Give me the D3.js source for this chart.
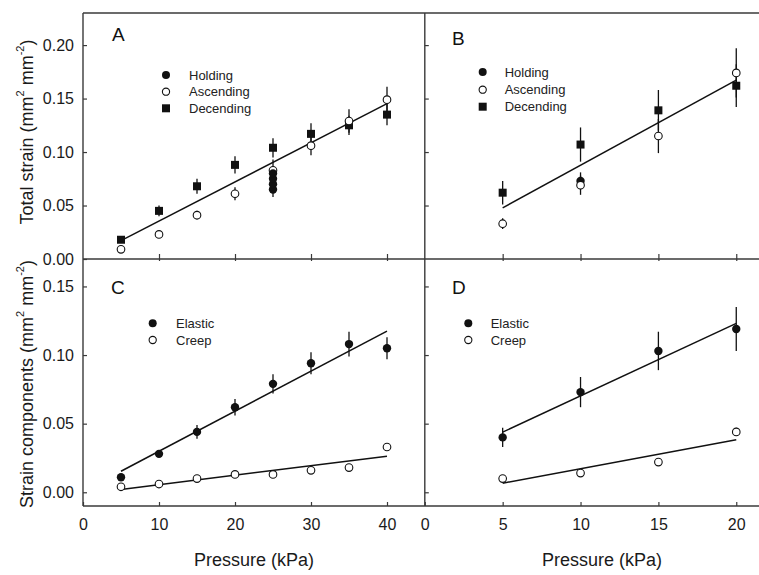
<!DOCTYPE html>
<html>
<head>
<meta charset="utf-8">
<script src="https://cdn.jsdelivr.net/npm/d3@7"></script>
<style>
  html, body { margin: 0; padding: 0; background: #fff; }
  svg { display: block; font-family: "Liberation Sans", Arial, sans-serif; }
</style>
</head>
<body>
<svg id="chart" width="759" height="575"></svg>
<script>
// ---------------- DATA ----------------
const pressureA = [5, 10, 15, 20, 25, 30, 35, 40];
const ascendingA = [0.009, 0.023, 0.041, 0.061, 0.083, 0.106, 0.129, 0.149];
const ascendingAErr = [0.002, 0.002, 0.004, 0.006, 0.010, 0.009, 0.011, 0.012];
const descendingA = [0.018, 0.045, 0.068, 0.088, 0.104, 0.117, 0.125, 0.135];
const descendingAErr = [0.003, 0.005, 0.007, 0.008, 0.009, 0.010, 0.009, 0.010];
const holdingAPressure = [25, 25, 25, 25];
const holdingA = [0.065, 0.070, 0.075, 0.080];
const holdingAErr = [0.007, 0.004, 0.004, 0.004];
const fitA = [[5, 0.0172], [40, 0.1453]];

const pressureB = [5, 10, 15, 20];
const ascendingB = [0.033, 0.069, 0.115, 0.174];
const ascendingBErr = [0.005, 0.009, 0.016, 0.023];
const descendingB = [0.062, 0.107, 0.139, 0.162];
const descendingBErr = [0.011, 0.016, 0.019, 0.020];
const holdingBPressure = [10];
const holdingB = [0.073];
const holdingBErr = [0.008];
const fitB = [[5, 0.0478], [20, 0.1672]];

const pressureC = [5, 10, 15, 20, 25, 30, 35, 40];
const elasticC = [0.011, 0.028, 0.044, 0.062, 0.079, 0.094, 0.108, 0.105];
const elasticCErr = [0.002, 0.002, 0.005, 0.006, 0.007, 0.008, 0.009, 0.008];
const creepC = [0.004, 0.006, 0.010, 0.013, 0.013, 0.016, 0.018, 0.033];
const creepCErr = [0.001, 0.001, 0.001, 0.001, 0.001, 0.001, 0.001, 0.002];
const fitElasticC = [[5, 0.0153], [40, 0.1175]];
const fitCreepC = [[5, 0.0020], [40, 0.0263]];

const pressureD = [5, 10, 15, 20];
const elasticD = [0.040, 0.073, 0.103, 0.119];
const elasticDErr = [0.007, 0.011, 0.014, 0.016];
const creepD = [0.010, 0.014, 0.022, 0.044];
const creepDErr = [0.001, 0.001, 0.001, 0.003];
const fitElasticD = [[5, 0.0438], [20, 0.1231]];
const fitCreepD = [[5, 0.0066], [20, 0.0382]];

const xTicksLeft = [0, 10, 20, 30, 40];
const xTicksRight = [0, 5, 10, 15, 20];
const yTicksTop = [0, 0.05, 0.10, 0.15, 0.20];
const yTicksBottom = [0, 0.05, 0.10, 0.15];

const legendTop = ["Holding", "Ascending", "Decending"];
const legendBottom = ["Elastic", "Creep"];

// ---------------- SCALES ----------------
const svg = d3.select("#chart");
const xL = d3.scaleLinear().domain([0, 45]).range([83, 425]);
const xR = d3.scaleLinear().domain([0, 21.46]).range([424.8, 759]);
const yT = d3.scaleLinear().domain([0, 0.23]).range([259, 13]);
const yB = d3.scaleLinear().domain([-0.01, 0.17]).range([506, 259]);

const ink = "#111";
const frame = "#3a3a3a";
const fmt = d3.format(".2f");

// ---------------- AXES ----------------
function styleAxis(g) {
  g.select(".domain").remove();
  g.selectAll(".tick line").attr("stroke", frame).attr("stroke-width", 1.2);
  g.selectAll(".tick text").attr("fill", "#1a1a1a").style("font-size", "16px")
    .style("font-family", "'Liberation Sans', Arial, sans-serif");
}

// Left y axes
svg.append("g").attr("transform", "translate(83,0)")
  .call(d3.axisLeft(yT).tickValues(yTicksTop).tickFormat(fmt).tickSizeInner(-4).tickSizeOuter(0).tickPadding(9))
  .call(styleAxis);
svg.append("g").attr("transform", "translate(83,0)")
  .call(d3.axisLeft(yB).tickValues(yTicksBottom).tickFormat(fmt).tickSizeInner(-4).tickSizeOuter(0).tickPadding(9))
  .call(styleAxis);
// Right panel y ticks (inward, no labels)
svg.append("g").attr("transform", "translate(424.8,0)")
  .call(d3.axisLeft(yT).tickValues(yTicksTop.slice(1)).tickFormat("").tickSizeInner(-4).tickSizeOuter(0))
  .call(styleAxis);
svg.append("g").attr("transform", "translate(424.8,0)")
  .call(d3.axisLeft(yB).tickValues(yTicksBottom).tickFormat("").tickSizeInner(-4).tickSizeOuter(0))
  .call(styleAxis);

// x ticks at middle divider (both sides)
svg.append("g").attr("transform", "translate(0,259)")
  .call(d3.axisBottom(xL).tickValues(xTicksLeft.slice(1)).tickFormat("").tickSizeInner(-5).tickSizeOuter(0))
  .call(styleAxis);
svg.append("g").attr("transform", "translate(0,259)")
  .call(d3.axisTop(xL).tickValues(xTicksLeft.slice(1)).tickFormat("").tickSizeInner(-2).tickSizeOuter(0))
  .call(styleAxis);
svg.append("g").attr("transform", "translate(0,259)")
  .call(d3.axisBottom(xR).tickValues(xTicksRight.slice(1)).tickFormat("").tickSizeInner(-5).tickSizeOuter(0))
  .call(styleAxis);
svg.append("g").attr("transform", "translate(0,259)")
  .call(d3.axisTop(xR).tickValues(xTicksRight.slice(1)).tickFormat("").tickSizeInner(-2).tickSizeOuter(0))
  .call(styleAxis);

// bottom x axes with labels
svg.append("g").attr("transform", "translate(0,506)")
  .call(d3.axisBottom(xL).tickValues(xTicksLeft).tickFormat(d3.format("d")).tickSizeInner(-4).tickSizeOuter(0).tickPadding(13))
  .call(styleAxis);
svg.append("g").attr("transform", "translate(0,506)")
  .call(d3.axisBottom(xR).tickValues(xTicksRight).tickFormat(d3.format("d")).tickSizeInner(-4).tickSizeOuter(0).tickPadding(13))
  .call(styleAxis);

// Frame lines
const frameLines = [
  [83, 13, 759, 13],
  [83, 259, 759, 259],
  [83, 506, 759, 506],
  [83, 13, 83, 506],
  [424.8, 13, 424.8, 506]
];
svg.append("g").selectAll("line").data(frameLines).join("line")
  .attr("x1", d => d[0]).attr("y1", d => d[1]).attr("x2", d => d[2]).attr("y2", d => d[3])
  .attr("stroke", frame).attr("stroke-width", 1.4);

// ---------------- MARKS ----------------
function errBars(g, x, y, xs, ys, es) {
  g.append("g").selectAll("line").data(xs.map((p, i) => [p, ys[i], es[i]])).join("line")
    .attr("x1", d => x(d[0])).attr("x2", d => x(d[0]))
    .attr("y1", d => y(d[1] - d[2])).attr("y2", d => y(d[1] + d[2]))
    .attr("stroke", ink).attr("stroke-width", 1.3);
}
function fitLine(g, x, y, pts) {
  g.append("path").datum(pts)
    .attr("d", d3.line().x(d => x(d[0])).y(d => y(d[1])))
    .attr("fill", "none").attr("stroke", ink).attr("stroke-width", 1.5);
}
function circles(g, x, y, xs, ys, filled) {
  g.append("g").selectAll("circle").data(xs.map((p, i) => [p, ys[i]])).join("circle")
    .attr("cx", d => x(d[0])).attr("cy", d => y(d[1])).attr("r", filled ? 4.2 : 3.8)
    .attr("fill", filled ? ink : "#fff").attr("stroke", ink).attr("stroke-width", filled ? 0 : 1.1);
}
function squares(g, x, y, xs, ys) {
  const s = 8;
  g.append("g").selectAll("rect").data(xs.map((p, i) => [p, ys[i]])).join("rect")
    .attr("x", d => x(d[0]) - s / 2).attr("y", d => y(d[1]) - s / 2)
    .attr("width", s).attr("height", s).attr("fill", ink);
}

const plot = svg.append("g");
// Panel A
errBars(plot, xL, yT, pressureA, descendingA, descendingAErr);
errBars(plot, xL, yT, pressureA, ascendingA, ascendingAErr);
errBars(plot, xL, yT, holdingAPressure, holdingA, holdingAErr);
fitLine(plot, xL, yT, fitA);
squares(plot, xL, yT, pressureA, descendingA);
circles(plot, xL, yT, pressureA, ascendingA, false);
circles(plot, xL, yT, holdingAPressure, holdingA, true);

// Panel B
errBars(plot, xR, yT, pressureB, descendingB, descendingBErr);
errBars(plot, xR, yT, pressureB, ascendingB, ascendingBErr);
errBars(plot, xR, yT, holdingBPressure, holdingB, holdingBErr);
fitLine(plot, xR, yT, fitB);
squares(plot, xR, yT, pressureB, descendingB);
circles(plot, xR, yT, holdingBPressure, holdingB, true);
circles(plot, xR, yT, pressureB, ascendingB, false);

// Panel C
errBars(plot, xL, yB, pressureC, elasticC, elasticCErr);
errBars(plot, xL, yB, pressureC, creepC, creepCErr);
fitLine(plot, xL, yB, fitElasticC);
fitLine(plot, xL, yB, fitCreepC);
circles(plot, xL, yB, pressureC, elasticC, true);
circles(plot, xL, yB, pressureC, creepC, false);

// Panel D
errBars(plot, xR, yB, pressureD, elasticD, elasticDErr);
errBars(plot, xR, yB, pressureD, creepD, creepDErr);
fitLine(plot, xR, yB, fitElasticD);
fitLine(plot, xR, yB, fitCreepD);
circles(plot, xR, yB, pressureD, elasticD, true);
circles(plot, xR, yB, pressureD, creepD, false);

// ---------------- LEGENDS ----------------
function legend(mx, tx, rows, labels, kinds) {
  const g = svg.append("g");
  labels.forEach((lab, i) => {
    const y = rows[i];
    const k = kinds[i];
    if (k === "square") {
      g.append("rect").attr("x", mx - 4).attr("y", y - 4).attr("width", 8).attr("height", 8).attr("fill", ink);
    } else {
      g.append("circle").attr("cx", mx).attr("cy", y).attr("r", k === "filled" ? 4 : 3.6)
        .attr("fill", k === "filled" ? ink : "#fff").attr("stroke", ink).attr("stroke-width", k === "filled" ? 0 : 1.1);
    }
    g.append("text").attr("x", tx).attr("y", y + 4.6).text(lab)
      .style("font-size", "13px").attr("fill", "#222");
  });
}
legend(166, 189, [75, 91.7, 108.3], legendTop, ["filled", "open", "square"]);
legend(482.7, 504.7, [72, 89.7, 106.7], legendTop, ["filled", "open", "square"]);
legend(152.7, 176, [323.3, 340], legendBottom, ["filled", "open"]);
legend(468.3, 490.7, [323.3, 340], legendBottom, ["filled", "open"]);

// ---------------- PANEL LETTERS ----------------
const letters = [["A", 112, 41], ["B", 452, 45], ["C", 111, 294], ["D", 452, 294]];
svg.append("g").selectAll("text").data(letters).join("text")
  .attr("x", d => d[1]).attr("y", d => d[2]).text(d => d[0])
  .style("font-size", "19px").attr("fill", "#111");

// ---------------- AXIS TITLES ----------------
svg.append("text").attr("x", 254).attr("y", 566).attr("text-anchor", "middle")
  .style("font-size", "18px").attr("fill", "#1a1a1a").text("Pressure (kPa)");
svg.append("text").attr("x", 602).attr("y", 566).attr("text-anchor", "middle")
  .style("font-size", "18px").attr("fill", "#1a1a1a").text("Pressure (kPa)");

function yTitle(cx, cy, main) {
  const t = svg.append("text")
    .attr("transform", `translate(${cx},${cy}) rotate(-90)`)
    .attr("text-anchor", "middle").attr("dominant-baseline", "middle")
    .style("font-size", "18px").attr("fill", "#1a1a1a");
  t.append("tspan").text(main + " (mm");
  t.append("tspan").attr("dy", -7).style("font-size", "11px").text("2");
  t.append("tspan").attr("dy", 7).text(" mm");
  t.append("tspan").attr("dy", -7).style("font-size", "11px").text("-2");
  t.append("tspan").attr("dy", 7).text(")");
}
yTitle(28, 132, "Total strain");
yTitle(28, 384, "Strain components");
</script>
</body>
</html>
